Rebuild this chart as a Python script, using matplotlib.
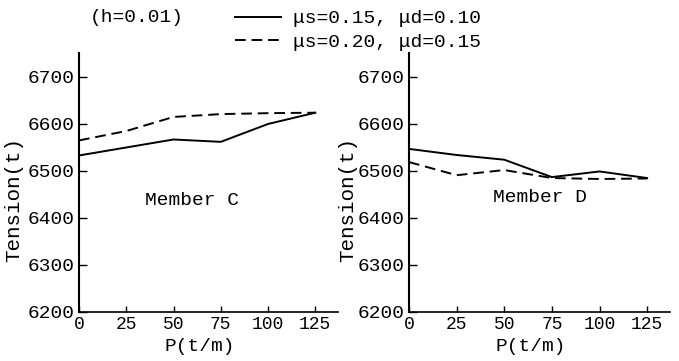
import matplotlib
matplotlib.use('Agg')
import matplotlib.pyplot as plt

# load P (t/m)
p = [0, 25, 50, 75, 100, 125]

# tension (t), member C
c_mu1 = [6533, 6550, 6567, 6562, 6600, 6624]
c_mu2 = [6565, 6585, 6615, 6621, 6623, 6624]

# tension (t), member D
d_mu1 = [6547, 6534, 6524, 6487, 6499, 6485]
d_mu2 = [6519, 6491, 6502, 6485, 6483, 6484]

labels = ['μs=0.15, μd=0.10', 'μs=0.20, μd=0.15']
xticks = [0, 25, 50, 75, 100, 125]
yticks = [6200, 6300, 6400, 6500, 6600, 6700]

plt.rcParams['font.family'] = ['Liberation Mono', 'DejaVu Sans Mono']
plt.rcParams['font.size'] = 14

fig = plt.figure(figsize=(6.79, 3.61), dpi=100)
W, H = 679, 361


def make_axes(x0, x1, y0=53, y1=312):
    return fig.add_axes([x0 / W, (H - y1) / H, (x1 - x0) / W, (y1 - y0) / H])


ax1 = make_axes(79, 338)
ax2 = make_axes(409, 670)

dash = (0, (5.5, 3))
for ax, s1, s2, name, tx, ty in [(ax1, c_mu1, c_mu2, 'Member C', 60, 6438),
                                  (ax2, d_mu1, d_mu2, 'Member D', 69, 6443)]:
    l1, = ax.plot(p, s1, color='black', lw=1.4, ls='-', label=labels[0])
    l2, = ax.plot(p, s2, color='black', lw=1.4, ls=dash, label=labels[1])
    ax.set_xlim(0, 137)
    ax.set_ylim(6200, 6751)
    ax.set_xticks(xticks)
    ax.set_yticks(yticks)
    ax.spines['top'].set_visible(False)
    ax.spines['right'].set_visible(False)
    ax.spines['left'].set_linewidth(1.5)
    ax.spines['bottom'].set_linewidth(1.2)
    ax.tick_params(axis='y', direction='in', length=6, width=1, pad=3, labelsize=14)
    ax.tick_params(axis='x', direction='in', length=4, width=1, pad=3, labelsize=13)
    ax.set_xlabel('P(t/m)', fontsize=14)
    ax.xaxis.set_label_coords(64 / 137, -0.1)
    ax.xaxis.label.set_va('top')
    ax.set_ylabel('Tension(t)', fontsize=15)
    ax.text(tx, ty, name, ha='center', va='center')

ax1.yaxis.set_label_coords(-0.215, 0.436)
ax2.yaxis.set_label_coords(-0.2, 0.436)

fig.text(90 / W, 1 - 18 / H, '(h=0.01)', ha='left', va='center')
fig.legend(handles=[l1, l2], loc='upper left', bbox_to_anchor=(227 / W, 1 - 2 / H),
           frameon=False, handlelength=2.4, handletextpad=0.6, labelspacing=0.3,
           borderaxespad=0)

fig.savefig('out.png', dpi=100)
